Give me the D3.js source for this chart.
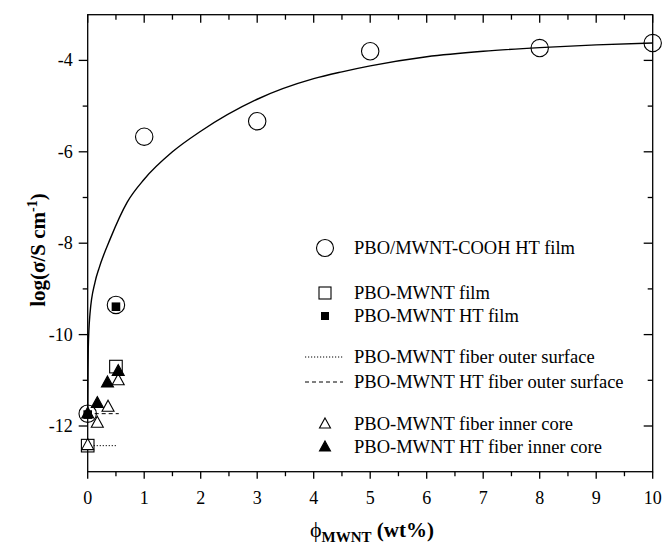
<!DOCTYPE html>
<html><head><meta charset="utf-8">
<script src="https://cdn.jsdelivr.net/npm/d3@7"></script>
<style>body{margin:0;background:#fff}svg{display:block}text{font-family:"Liberation Serif","Times New Roman",serif}</style>
</head><body><svg id="c" width="666" height="548"></svg>
<script>
// ---- data ----
const xTicks = [0,1,2,3,4,5,6,7,8,9,10];
const yTicks = [-4,-6,-8,-10,-12];
const cooh = [[0,-11.73],[0.5,-9.35],[1,-5.67],[3,-5.33],[5,-3.8],[8,-3.73],[10,-3.62]];
const filmOpen = [[0,-12.43],[0.5,-10.7]];
const filmHT = [[0,-11.75],[0.5,-9.39]];
const coreOpen = [[0,-12.42],[0.17,-11.93],[0.36,-11.58],[0.54,-11.0]];
const coreHT = [[0,-11.73],[0.17,-11.5],[0.35,-11.05],[0.54,-10.8]];
const outerPBO = [[0,-12.43],[0.5,-12.43]];
const outerHT = [[0,-11.73],[0.55,-11.73]];
const fit = [[0,-11.7],[0.005,-10.8],[0.01,-10.3],[0.04,-9.55],[0.13,-8.85],[0.2,-8.55],[0.4,-7.9],[0.7,-7.1],[1,-6.6],[1.5,-6.0],[2,-5.55],[3,-4.85],[4,-4.4],[4.5,-4.25],[5,-4.12],[6,-3.92],[7,-3.8],[8,-3.72],[9,-3.66],[10,-3.62]];
const legendItems = ["PBO/MWNT-COOH HT film","PBO-MWNT film","PBO-MWNT HT film","PBO-MWNT fiber outer surface","PBO-MWNT HT fiber outer surface","PBO-MWNT fiber inner core","PBO-MWNT HT fiber inner core"];

// ---- layout ----
const svg = d3.select("#c");
const L=87.7,R=652.7,T=14.7,B=471.7;
const x = d3.scaleLinear().domain([0,10]).range([L,R]);
const y = d3.scaleLinear().domain([-13,-3]).range([B,T]);
const minorX = d3.range(0.5,10,1);
const minorY = [-5,-7,-9,-11];

const ax = svg.append("g").attr("stroke","#000").attr("stroke-width",1.3).attr("fill","none");
ax.append("rect").attr("x",L).attr("y",T).attr("width",R-L).attr("height",B-T);
xTicks.forEach(v=>ax.append("line").attr("x1",x(v)).attr("x2",x(v)).attr("y1",B).attr("y2",B+7));
minorX.forEach(v=>ax.append("line").attr("x1",x(v)).attr("x2",x(v)).attr("y1",B).attr("y2",B+4.5));
xTicks.forEach(v=>ax.append("line").attr("x1",x(v)).attr("x2",x(v)).attr("y1",T).attr("y2",T+8));
minorX.forEach(v=>ax.append("line").attr("x1",x(v)).attr("x2",x(v)).attr("y1",T).attr("y2",T+5));
yTicks.forEach(v=>ax.append("line").attr("x1",L-9).attr("x2",L).attr("y1",y(v)).attr("y2",y(v)));
minorY.forEach(v=>ax.append("line").attr("x1",L-5).attr("x2",L).attr("y1",y(v)).attr("y2",y(v)));
yTicks.forEach(v=>ax.append("line").attr("x1",R-9).attr("x2",R).attr("y1",y(v)).attr("y2",y(v)));
minorY.forEach(v=>ax.append("line").attr("x1",R-5).attr("x2",R).attr("y1",y(v)).attr("y2",y(v)));

svg.append("g").selectAll("text").data(xTicks).join("text")
  .attr("x",d=>x(d)).attr("y",B+32).attr("text-anchor","middle").attr("font-size",18).text(d=>d);
svg.append("g").selectAll("text").data(yTicks).join("text")
  .attr("x",L-15).attr("y",d=>y(d)+6).attr("text-anchor","end").attr("font-size",18).text(d=>d);

// axis titles
const xl = svg.append("text").attr("x",372).attr("y",537).attr("text-anchor","middle").attr("font-size",21).attr("font-weight","bold");
xl.append("tspan").attr("font-weight","normal").attr("font-size",22).text("\u03D5");
xl.append("tspan").attr("dy",5).attr("font-size",15).text("MWNT");
xl.append("tspan").attr("dy",-5).text(" (wt%)");
const yl = svg.append("text").attr("transform",`translate(45,250) rotate(-90)`).attr("text-anchor","middle").attr("font-size",21).attr("font-weight","bold");
yl.append("tspan").text("log(\u03C3/S cm");
yl.append("tspan").attr("dy",-8).attr("font-size",14).text("-1");
yl.append("tspan").attr("dy",8).text(")");

const line = d3.line().x(d=>x(d[0])).y(d=>y(d[1]));
svg.append("path").datum(fit).attr("d",line.curve(d3.curveMonotoneX)).attr("fill","none").attr("stroke","#000").attr("stroke-width",1.4);
line.curve(d3.curveLinear);
svg.append("path").datum(outerPBO).attr("d",line).attr("fill","none").attr("stroke","#000").attr("stroke-width",1).attr("stroke-dasharray","1.2,1.8");
svg.append("path").datum(outerHT).attr("d",line).attr("fill","none").attr("stroke","#000").attr("stroke-width",1).attr("stroke-dasharray","4,3");

const tri = (cx,cy,w,h)=>`M${cx},${cy-h*0.6}L${cx+w/2},${cy+h*0.4}L${cx-w/2},${cy+h*0.4}Z`;
const g = svg.append("g").attr("stroke","#000").attr("stroke-width",1.1);
g.selectAll(".co").data(coreOpen).join("path").attr("d",d=>tri(x(d[0]),y(d[1]),12,11)).attr("fill","#fff");
g.selectAll(".sq").data(filmOpen).join("rect").attr("x",d=>x(d[0])-6.3).attr("y",d=>y(d[1])-6.3).attr("width",12.6).attr("height",12.6).attr("fill","none");
g.selectAll(".ci").data(cooh).join("circle").attr("cx",d=>x(d[0])).attr("cy",d=>y(d[1])).attr("r",8.7).attr("fill","none");
g.selectAll(".ch").data(coreHT).join("path").attr("d",d=>tri(x(d[0]),y(d[1]),12,11)).attr("fill","#000");
g.selectAll(".sh").data(filmHT).join("rect").attr("x",d=>x(d[0])-4.3).attr("y",d=>y(d[1])-4.3).attr("width",8.6).attr("height",8.6).attr("fill","#000").attr("stroke","none");

// legend
const lg = svg.append("g");
const ly = [248,293,316,357,382,424,447];
const lx = 325;
lg.append("circle").attr("cx",lx).attr("cy",ly[0]).attr("r",8.5).attr("fill","none").attr("stroke","#000").attr("stroke-width",1.1);
lg.append("rect").attr("x",lx-6).attr("y",ly[1]-6).attr("width",12).attr("height",12).attr("fill","none").attr("stroke","#000").attr("stroke-width",1.1);
lg.append("rect").attr("x",lx-4).attr("y",ly[2]-4).attr("width",8).attr("height",8).attr("fill","#000");
lg.append("line").attr("x1",305).attr("x2",343).attr("y1",ly[3]).attr("y2",ly[3]).attr("stroke","#000").attr("stroke-dasharray","1.2,1.8");
lg.append("line").attr("x1",305).attr("x2",343).attr("y1",ly[4]).attr("y2",ly[4]).attr("stroke","#000").attr("stroke-dasharray","4,3");
lg.append("path").attr("d",tri(lx,ly[5],11,10)).attr("fill","#fff").attr("stroke","#000").attr("stroke-width",1.1);
lg.append("path").attr("d",tri(lx,ly[6],11,10)).attr("fill","#000").attr("stroke","#000").attr("stroke-width",1.1);
lg.selectAll("text").data(legendItems).join("text").attr("x",354).attr("y",(d,i)=>ly[i]+6).attr("font-size",18.5).text(d=>d);
</script></body></html>
